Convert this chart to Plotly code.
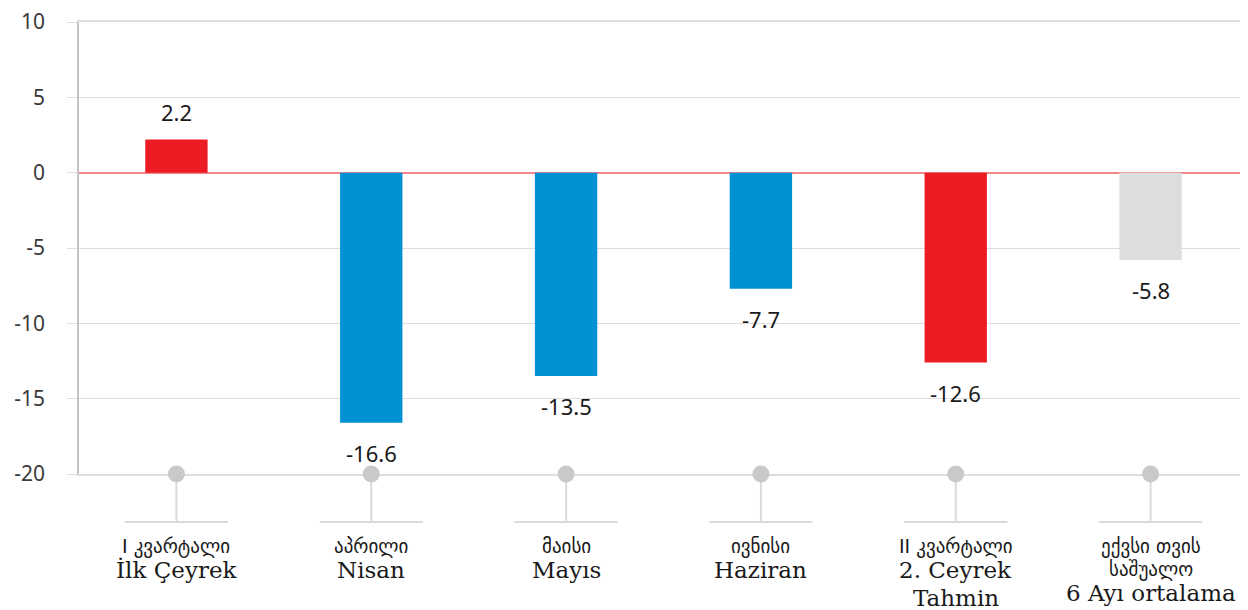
import plotly.graph_objects as go

# ---- data ----
categories = ["q1", "apr", "may", "jun", "q2", "avg6"]
values = [2.2, -16.6, -13.5, -7.7, -12.6, -5.8]
geo_labels = ["I კვარტალი", "აპრილი", "მაისი", "ივნისი", "II კვარტალი", "ექვსი თვის<br>საშუალო"]
tr_labels = ["İlk Çeyrek", "Nisan", "Mayıs", "Haziran", "2. Ceyrek<br>Tahmin", "6 Ayı ortalama"]
y_ticks = [10, 5, 0, -5, -10, -15, -20]

# ---- styles ----
RED = "#ed1c24"
BLUE = "#0091d5"
GREY = "#dcdddf"
bar_colors = [RED, BLUE, BLUE, BLUE, RED, GREY]
GRID = "#dddddd"
DECOR = "#dadada"
GEO_FONT = dict(family="DejaVu Sans", size=19, color="#1a1a1a")
TR_FONT = dict(family="DejaVu Serif", size=23, color="#1a1a1a")
PLOT_H = 452  # plot-area height in px

fig = go.Figure()
fig.add_trace(go.Bar(
    x=categories, y=values, marker=dict(color=bar_colors, line=dict(width=0)),
    width=0.32, hoverinfo="skip",
))
ymin = min(y_ticks)
fig.add_trace(go.Scatter(
    x=categories, y=[ymin] * len(categories), mode="markers",
    marker=dict(size=17, color="#c9c9cc"), cliponaxis=False, hoverinfo="skip",
))

annotations = []
for c, v in zip(categories, values):
    annotations.append(dict(
        x=c, y=v, xref="x", yref="y", text=f"{v:.1f}", showarrow=False,
        yanchor="middle", yshift=28 if v >= 0 else -30,
        font=dict(family="Noto Sans", size=22, color="#1a1a1a"),
    ))

shapes = []
for i, (c, g, t) in enumerate(zip(categories, geo_labels, tr_labels)):
    shapes.append(dict(type="line", xref="x", yref="paper", x0=i, x1=i, y0=-0.01, y1=-48 / PLOT_H,
                       line=dict(color=DECOR, width=2), layer="below"))
    shapes.append(dict(type="line", xref="x", yref="paper", x0=i - 0.265, x1=i + 0.265,
                       y0=-48 / PLOT_H, y1=-48 / PLOT_H, line=dict(color=DECOR, width=2)))
    # stack label lines below the axis
    offset = 72
    prev = None
    for kind, txt in [("geo", s) for s in g.split("<br>")] + [("tr", s) for s in t.split("<br>")]:
        if prev == "geo" and kind == "geo":
            offset += 23
        elif prev == "geo" and kind == "tr":
            offset += 24
        elif prev == "tr":
            offset += 28
        prev = kind
        annotations.append(dict(
            x=c, y=0, xref="x", yref="paper", text=txt, showarrow=False,
            yanchor="middle", yshift=-offset, align="center",
            font=GEO_FONT if kind == "geo" else TR_FONT,
        ))

fig.update_layout(
    width=1248, height=610,
    margin=dict(l=71, r=8, t=14, b=144, autoexpand=False),
    paper_bgcolor="white", plot_bgcolor="white",
    showlegend=False,
    annotations=annotations, shapes=shapes,
    xaxis=dict(type="category", showticklabels=False, showgrid=False,
               showline=True, linecolor=GRID, linewidth=1.5, mirror=True,
               zeroline=False, ticks="", fixedrange=True, automargin=False,
               layer="below traces"),
    yaxis=dict(range=[min(y_ticks), max(y_ticks)], tickvals=y_ticks,
               ticktext=[str(v) for v in y_ticks],
               showgrid=True, gridcolor=GRID, gridwidth=1,
               showline=True, linecolor="#c4c4c4", linewidth=1.5,
               zeroline=True, zerolinecolor="#f3868a", zerolinewidth=1.5,
               ticks="outside", ticklen=10, tickcolor=GRID, tickwidth=1,
               tickfont=dict(family="Noto Sans", size=21, color="#3a3a3a"),
               ticklabelstandoff=18, ticklabeloverflow="allow", automargin=False,
               fixedrange=True, layer="below traces"),
)

fig.write_html("out.html")
